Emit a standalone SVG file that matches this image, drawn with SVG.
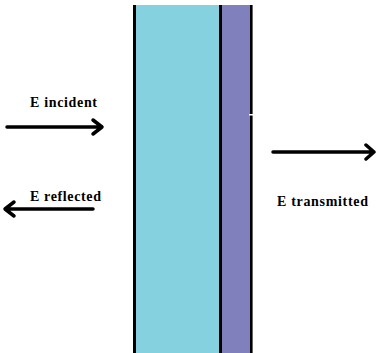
<svg xmlns="http://www.w3.org/2000/svg" width="376" height="353" viewBox="0 0 376 353">
<style>
.lbl{font-family:"Liberation Serif","Times New Roman",serif;font-weight:bold;font-size:14px;fill:#000}
.arr{fill:none;stroke:#000;stroke-width:3.5;stroke-linecap:round;stroke-linejoin:round}
.edge{fill:#000}
</style>
<rect width="376" height="353" fill="#fff"/>
<g id="layer1">
<rect x="135" y="5" width="85" height="348" fill="#86D1DF"/>
</g>
<g id="layer2">
<rect x="220" y="5" width="31" height="348" fill="#8080BC"/>
</g>
<g id="boundaries">
<rect class="edge" x="133" y="5" width="3" height="348"/>
<rect class="edge" x="219" y="5" width="3" height="348"/>
<rect class="edge" x="250" y="5" width="2.6" height="348"/>
<rect x="249" y="114" width="4" height="1.5" fill="#fff"/>
</g>
<g id="connectors">
<path class="arr" d="M7 127 H102 M93 120 L102 127 L93 134"/>
<path class="arr" d="M93 209 H5 M14 202 L5 209 L14 216"/>
<path class="arr" d="M273 152 H374 M366 145 L374 152 L366 159"/>
</g>
<g id="incident"><text class="lbl" x="30" y="107" textLength="67" lengthAdjust="spacing">E incident</text></g>
<g id="reflected"><text class="lbl" x="30" y="201" textLength="71" lengthAdjust="spacing">E reflected</text></g>
<g id="transmitted"><text class="lbl" x="277" y="206" textLength="91" lengthAdjust="spacing">E transmitted</text></g>
</svg>
